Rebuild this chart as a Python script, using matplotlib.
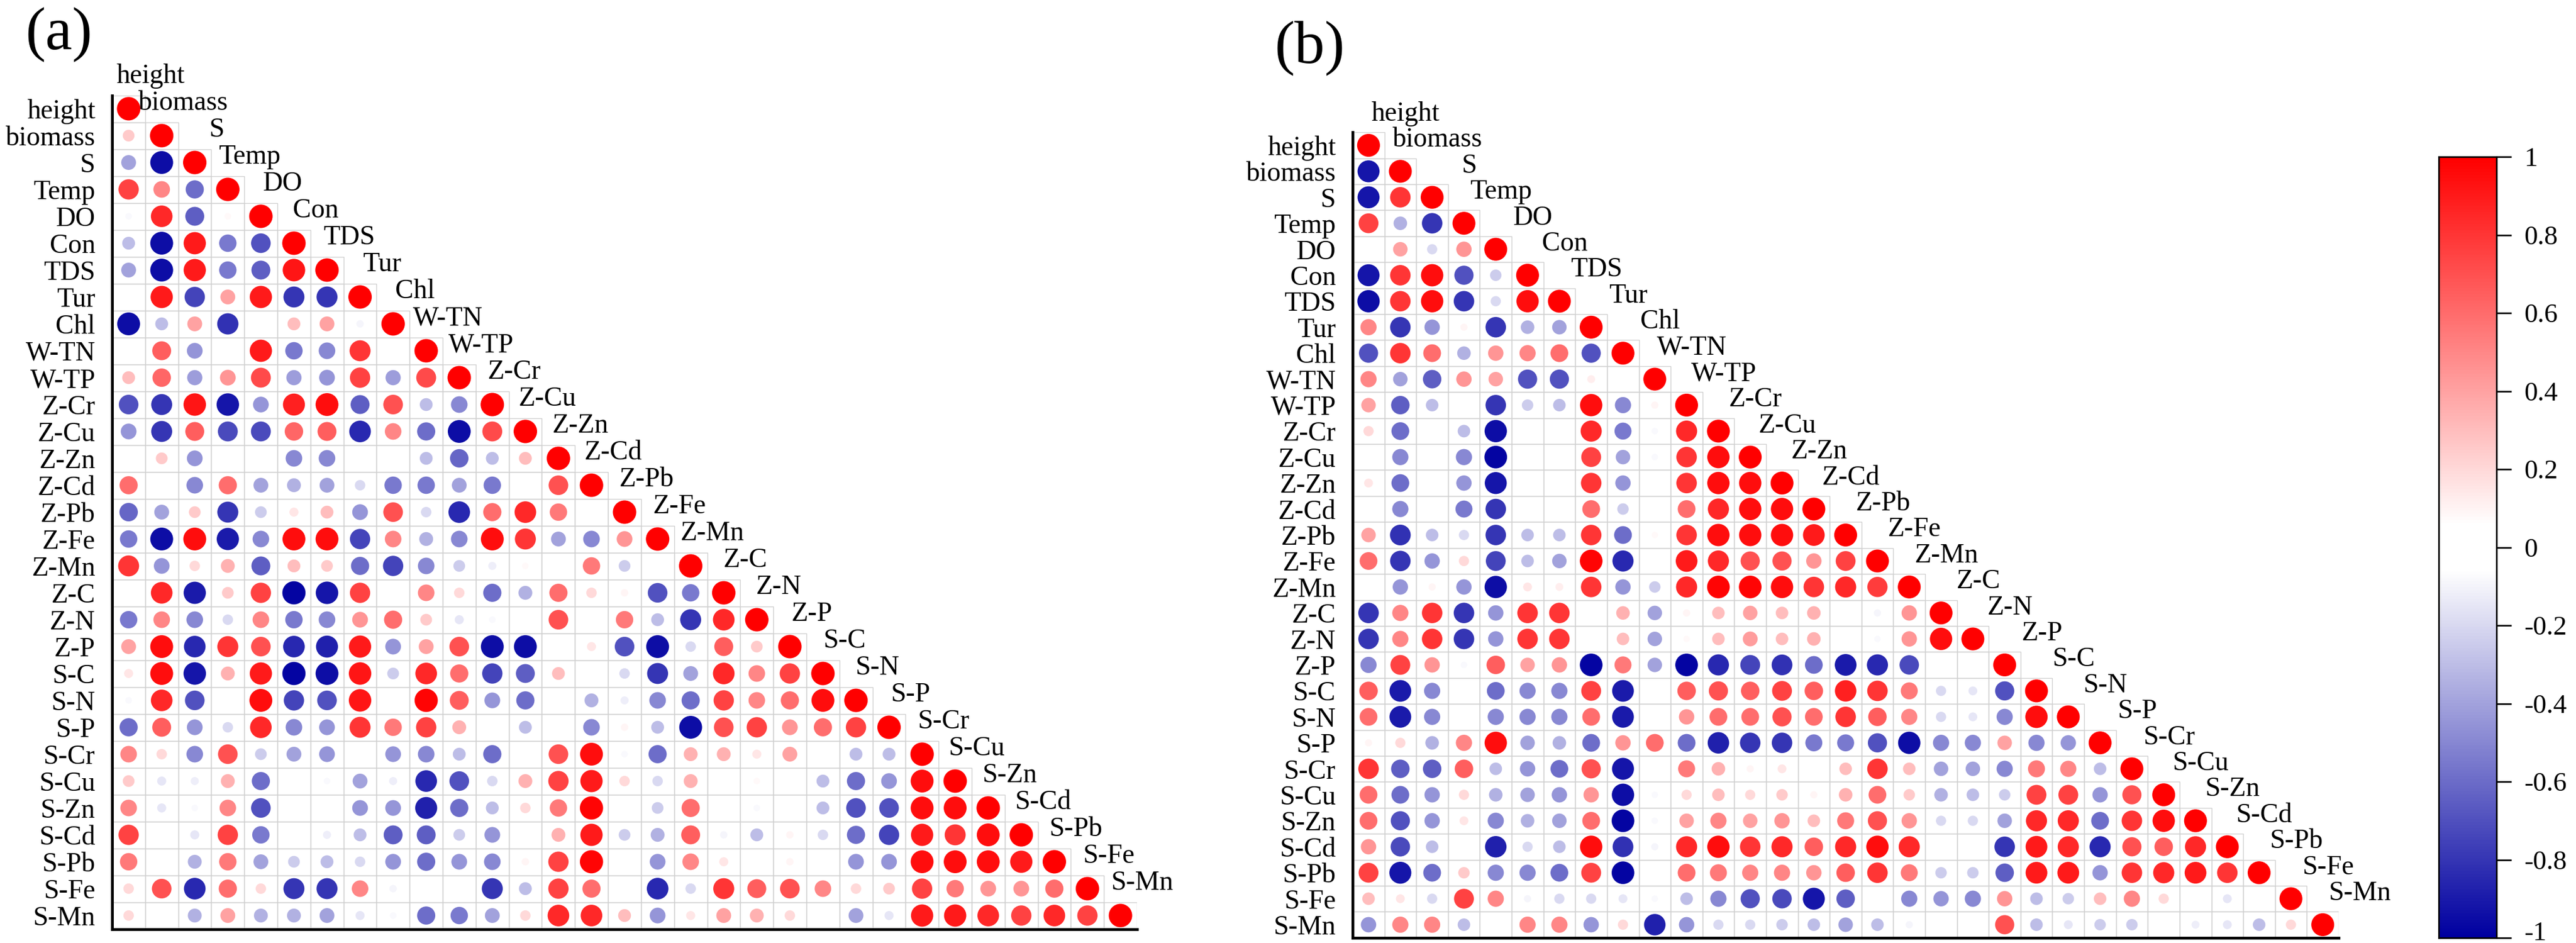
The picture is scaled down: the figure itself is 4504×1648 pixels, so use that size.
import matplotlib
matplotlib.use("Agg")
import matplotlib.pyplot as plt
import matplotlib.transforms as mtransforms
import numpy as np
from matplotlib.colors import LinearSegmentedColormap
from matplotlib.patches import Rectangle
from matplotlib.collections import PatchCollection

plt.rcParams['font.family'] = ['Liberation Serif', 'DejaVu Serif']

variables = ["height", "biomass", "S", "Temp", "DO", "Con", "TDS", "Tur", "Chl",
             "W-TN", "W-TP", "Z-Cr", "Z-Cu", "Z-Zn", "Z-Cd", "Z-Pb", "Z-Fe",
             "Z-Mn", "Z-C", "Z-N", "Z-P", "S-C", "S-N", "S-P", "S-Cr", "S-Cu",
             "S-Zn", "S-Cd", "S-Pb", "S-Fe", "S-Mn"]

# lower triangle (below the diagonal), row i holds columns 0..i-1
corr_a = [
    [],
    [0.25],
    [-0.4, -0.95],
    [0.75, 0.5, -0.6],
    [-0.08, 0.85, -0.65, 0.08],
    [-0.3, -0.95, 0.9, -0.55, -0.7],
    [-0.4, -0.95, 0.9, -0.55, -0.65, 0.92],
    [0.0, 0.9, -0.75, 0.4, 0.9, -0.8, -0.8],
    [-0.95, -0.3, 0.4, -0.82, 0.0, 0.3, 0.4, -0.1],
    [-0.05, 0.65, -0.45, 0.0, 0.9, -0.55, -0.5, 0.8, 0.0],
    [0.3, 0.62, -0.42, 0.45, 0.72, -0.42, -0.45, 0.75, -0.42, 0.72],
    [-0.7, -0.8, 0.92, -0.92, -0.45, 0.88, 0.95, -0.65, 0.7, -0.3, -0.5],
    [-0.45, -0.8, 0.65, -0.72, -0.72, 0.62, 0.65, -0.85, 0.5, -0.6, -0.95, 0.72],
    [0.0, 0.25, -0.45, 0.03, 0.0, -0.5, -0.5, 0.0, 0.05, -0.3, -0.62, -0.3, 0.3],
    [0.6, 0.05, -0.5, 0.6, -0.4, -0.35, -0.4, -0.2, -0.55, -0.55, -0.4, -0.55, 0.03, 0.7],
    [-0.62, -0.4, 0.25, -0.8, -0.25, 0.15, 0.3, -0.45, 0.7, -0.2, -0.85, 0.6, 0.85, 0.55, 0.0],
    [-0.55, -0.95, 0.95, -0.9, -0.5, 0.95, 0.95, -0.75, 0.5, -0.35, -0.5, 0.95, 0.8, -0.4, -0.5, 0.45],
    [0.8, -0.45, 0.2, 0.35, -0.65, 0.3, 0.25, -0.6, -0.75, -0.5, -0.25, -0.12, 0.08, -0.05, 0.55, -0.25, 0.0],
    [-0.03, 0.85, -0.9, 0.25, 0.75, -0.98, -0.92, 0.75, 0.0, 0.5, 0.2, -0.6, -0.35, 0.6, 0.2, 0.1, -0.7, -0.55],
    [-0.55, 0.5, -0.5, -0.2, 0.5, -0.55, -0.5, 0.45, 0.6, 0.25, -0.15, -0.08, 0.05, 0.7, 0.0, 0.55, -0.3, -0.8, 0.85],
    [0.4, 0.95, -0.85, 0.8, 0.7, -0.85, -0.88, 0.9, -0.45, 0.4, 0.7, -0.95, -0.95, 0.05, 0.15, -0.7, -0.95, -0.2, 0.65, 0.25],
    [0.15, 0.95, -0.92, 0.35, 0.9, -0.98, -0.95, 0.92, -0.25, 0.85, 0.6, -0.75, -0.65, 0.3, 0.0, -0.2, -0.8, -0.4, 0.85, 0.5, 0.75],
    [-0.08, 0.85, -0.7, 0.0, 0.95, -0.75, -0.7, 0.92, 0.0, 0.98, 0.65, -0.45, -0.6, 0.0, -0.35, -0.12, -0.5, -0.6, 0.75, 0.5, 0.6, 0.95],
    [-0.6, 0.65, -0.45, -0.2, 0.85, -0.5, -0.45, 0.8, 0.55, 0.75, 0.35, -0.05, -0.3, 0.05, -0.5, 0.1, -0.3, -0.95, 0.7, 0.75, 0.45, 0.6, 0.75],
    [0.5, 0.2, -0.5, 0.7, -0.25, -0.4, -0.45, 0.0, -0.45, -0.5, -0.3, -0.6, 0.0, 0.7, 0.95, -0.08, -0.6, 0.35, 0.35, 0.15, 0.4, 0.0, -0.3, -0.3],
    [0.25, -0.15, -0.12, 0.35, -0.6, 0.0, -0.08, -0.4, -0.12, -0.85, -0.7, -0.2, 0.35, 0.75, 0.9, 0.2, -0.2, 0.35, 0.03, 0.08, 0.0, -0.3, -0.6, -0.45, 0.95],
    [0.5, -0.15, -0.08, 0.5, -0.7, 0.0, 0.03, -0.45, -0.45, -0.88, -0.6, -0.3, 0.2, 0.55, 0.98, 0.0, -0.25, 0.6, 0.03, -0.08, 0.0, -0.3, -0.7, -0.7, 0.95, 0.95],
    [0.75, -0.05, -0.15, 0.75, -0.55, -0.02, -0.12, -0.3, -0.65, -0.65, -0.25, -0.45, 0.0, 0.35, 0.9, -0.25, -0.35, 0.65, -0.1, -0.3, 0.1, -0.2, -0.6, -0.75, 0.9, 0.8, 0.95],
    [0.55, 0.0, -0.35, 0.55, -0.4, -0.25, -0.3, -0.2, -0.45, -0.6, -0.45, -0.5, 0.1, 0.75, 0.98, 0.0, -0.45, 0.5, 0.15, 0.0, 0.1, 0.0, -0.45, -0.45, 0.95, 0.95, 0.95, 0.9],
    [0.2, 0.7, -0.85, 0.6, 0.2, -0.8, -0.8, 0.5, -0.1, 0.0, 0.0, -0.8, -0.3, 0.75, 0.6, -0.02, -0.85, -0.2, 0.8, 0.65, 0.7, 0.5, 0.2, 0.25, 0.75, 0.55, 0.45, 0.45, 0.6],
    [0.2, 0.05, -0.35, 0.4, -0.35, -0.35, -0.4, -0.15, -0.08, -0.6, -0.55, -0.4, 0.2, 0.85, 0.85, 0.3, -0.45, 0.15, 0.4, 0.35, 0.2, 0.0, -0.4, -0.15, 0.9, 0.9, 0.85, 0.75, 0.85, 0.75],
]

corr_b = [
    [],
    [-0.92],
    [-0.92, 0.8],
    [0.75, -0.35, -0.8],
    [0.0, 0.4, -0.2, 0.45],
    [-0.92, 0.8, 0.95, -0.7, -0.25],
    [-0.95, 0.8, 0.95, -0.8, -0.2, 0.95],
    [0.5, -0.8, -0.45, 0.1, -0.8, -0.35, -0.4],
    [-0.7, 0.8, 0.6, -0.35, 0.45, 0.5, 0.6, -0.7],
    [0.5, -0.4, -0.65, 0.45, 0.4, -0.7, -0.7, 0.12, 0.0],
    [0.4, -0.65, -0.3, 0.0, -0.8, -0.25, -0.3, 0.95, -0.5, 0.1],
    [0.2, -0.6, 0.0, -0.3, -0.95, 0.0, 0.0, 0.85, -0.55, -0.08, 0.85],
    [0.0, -0.5, 0.03, -0.5, -0.98, 0.05, 0.05, 0.75, -0.4, -0.08, 0.8, 0.95],
    [0.15, -0.6, 0.0, -0.45, -0.92, 0.0, 0.0, 0.8, -0.45, 0.0, 0.8, 0.95, 0.95],
    [0.0, -0.5, 0.0, -0.55, -0.8, 0.0, 0.0, 0.6, -0.25, 0.0, 0.6, 0.85, 0.95, 0.95],
    [0.4, -0.82, -0.3, -0.2, -0.8, -0.3, -0.3, 0.8, -0.6, 0.08, 0.8, 0.95, 0.95, 0.95, 0.9],
    [0.6, -0.8, -0.45, 0.2, -0.75, -0.3, -0.4, 0.98, -0.85, 0.0, 0.9, 0.85, 0.7, 0.7, 0.45, 0.75],
    [0.0, -0.45, 0.1, -0.45, -0.95, 0.15, 0.12, 0.8, -0.45, -0.25, 0.85, 0.98, 0.98, 0.95, 0.8, 0.85, 0.78],
    [-0.8, 0.5, 0.8, -0.8, -0.45, 0.8, 0.8, 0.0, 0.35, -0.4, 0.1, 0.3, 0.4, 0.3, 0.35, 0.0, -0.1, 0.45],
    [-0.8, 0.5, 0.8, -0.8, -0.45, 0.8, 0.8, 0.0, 0.3, -0.4, 0.08, 0.3, 0.42, 0.3, 0.35, 0.0, -0.08, 0.45, 0.95],
    [-0.5, 0.75, 0.45, -0.08, 0.65, 0.4, 0.45, -0.98, 0.55, -0.4, -0.98, -0.85, -0.75, -0.82, -0.6, -0.9, -0.85, -0.72, 0.0, 0.0],
    [0.65, -0.9, -0.5, 0.0, -0.6, -0.5, -0.5, 0.75, -0.9, 0.03, 0.65, 0.7, 0.65, 0.75, 0.65, 0.88, 0.8, 0.55, -0.2, -0.15, -0.7],
    [0.6, -0.9, -0.5, 0.0, -0.5, -0.5, -0.5, 0.6, -0.9, 0.0, 0.45, 0.6, 0.6, 0.7, 0.6, 0.8, 0.65, 0.5, -0.2, -0.15, -0.5, 0.95],
    [0.1, 0.2, -0.35, 0.5, 0.95, -0.4, -0.35, -0.6, 0.45, 0.6, -0.6, -0.88, -0.8, -0.8, -0.55, -0.55, -0.7, -0.95, -0.5, -0.5, 0.4, -0.5, -0.45],
    [0.8, -0.65, -0.65, 0.65, -0.3, -0.45, -0.6, 0.7, -0.92, 0.0, 0.55, 0.35, 0.1, 0.15, 0.0, 0.3, 0.8, 0.3, -0.4, -0.4, -0.5, 0.55, 0.5, -0.3],
    [0.6, -0.6, -0.45, 0.2, -0.35, -0.4, -0.45, 0.45, -0.95, -0.08, 0.2, 0.3, 0.2, 0.25, 0.1, 0.35, 0.6, 0.25, -0.35, -0.3, -0.25, 0.75, 0.75, -0.45, 0.7],
    [0.6, -0.7, -0.45, 0.15, -0.5, -0.35, -0.4, 0.6, -0.98, -0.08, 0.4, 0.5, 0.4, 0.45, 0.3, 0.55, 0.7, 0.45, -0.2, -0.2, -0.4, 0.85, 0.85, -0.6, 0.8, 0.95],
    [0.45, -0.72, -0.3, 0.0, -0.88, -0.2, -0.3, 0.95, -0.82, -0.1, 0.85, 0.95, 0.8, 0.85, 0.65, 0.85, 0.95, 0.85, 0.0, 0.0, -0.8, 0.9, 0.85, -0.85, 0.7, 0.65, 0.85],
    [0.75, -0.92, -0.6, 0.25, -0.5, -0.5, -0.6, 0.75, -0.98, 0.02, 0.6, 0.55, 0.5, 0.5, 0.45, 0.65, 0.8, 0.55, -0.25, -0.25, -0.65, 0.9, 0.9, -0.45, 0.8, 0.85, 0.9, 0.8],
    [0.3, 0.15, -0.2, 0.75, 0.5, -0.1, -0.2, -0.2, -0.15, -0.08, -0.3, -0.5, -0.7, -0.72, -0.92, -0.65, 0.0, -0.5, -0.45, -0.5, 0.45, -0.3, -0.25, 0.3, 0.5, 0.2, 0.05, -0.15, 0.0],
    [-0.45, 0.5, 0.5, -0.3, 0.0, 0.5, 0.5, -0.45, 0.2, -0.88, -0.45, -0.2, -0.2, -0.25, -0.3, -0.4, -0.3, -0.1, 0.05, 0.03, 0.7, -0.3, -0.15, -0.25, -0.25, 0.0, -0.12, -0.15, -0.3, 0.2],
]

cbar_ticks = [1, 0.8, 0.6, 0.4, 0.2, 0, -0.2, -0.4, -0.6, -0.8, -1]
cbar_labels = ["1", "0.8", "0.6", "0.4", "0.2", "0", "-0.2", "-0.4", "-0.6", "-0.8", "-1"]

cmap = LinearSegmentedColormap.from_list(
    "corr", [(0.0, (0.0, 0.0, 0.63)), (0.47, (1, 1, 1)), (0.53, (1, 1, 1)), (1.0, (1.0, 0.0, 0.0))])

W, H = 4504, 1648
LABEL_FS = 34.5
fig = plt.figure(figsize=(W / 100, H / 100), dpi=100)


def draw_panel(rect, corr, smax, lab_dx, letter, letter_xy):
    ax = fig.add_axes(rect)
    n = len(variables)
    # full matrix entries: lower triangle + diagonal of ones
    xs, ys, vs = [], [], []
    for i, row in enumerate(corr):
        for j, v in enumerate(list(row) + [1.0]):
            xs.append(j)
            ys.append(i)
            vs.append(v)
    vs = np.array(vs)

    cells = [Rectangle((x - 0.5, y - 0.5), 1, 1) for x, y in zip(xs, ys)]
    ax.add_collection(PatchCollection(cells, facecolor='none', edgecolor='#cfcfcf',
                                      linewidth=1.0, zorder=1))
    ax.scatter(xs, ys, s=smax * np.abs(vs), c=vs, cmap=cmap, vmin=-1, vmax=1,
               edgecolors='none', zorder=2)

    ax.set_xlim(-0.5, n - 0.5)
    ax.set_ylim(n - 0.5, -0.5)
    ax.set_xticks([])
    ax.set_yticks(range(n))
    ax.set_yticklabels(variables, fontsize=LABEL_FS)
    ax.tick_params(axis='y', length=0, pad=21)
    for s in ['top', 'right']:
        ax.spines[s].set_visible(False)
    for s in ['left', 'bottom']:
        ax.spines[s].set_linewidth(3.5)

    # column names run down the diagonal
    for j, name in enumerate(variables):
        ax.text(j + lab_dx, j - 1 - 0.21, name, ha='center', va='center',
                fontsize=LABEL_FS, clip_on=False)

    fig.text(letter_xy[0] / W, 1 - letter_xy[1] / H, letter, ha='center', va='center',
             fontsize=76)
    return ax


draw_panel([196 / W, 1 - 1623.5 / H, (1988 - 196) / W, (1623.5 - 166.5) / H],
           corr_a, 870, 0.66, "(a)", (103, 61))
draw_panel([2365 / W, 1 - 1638.7 / H, (4089 - 2365) / W, (1638.7 - 231.3) / H],
           corr_b, 830, 1.17, "(b)", (2290, 85))

# colour bar
cax = fig.add_axes([4264 / W, 1 - 1639 / H, 101 / W, (1639 - 274) / H])
grad = np.linspace(-1, 1, 512).reshape(-1, 1)
cax.imshow(grad, aspect='auto', cmap=cmap, origin='lower', extent=[0, 1, -1, 1])
cax.set_xticks([])
cax.yaxis.tick_right()
cax.set_yticks(cbar_ticks)
cax.set_yticklabels(cbar_labels, fontsize=34)
cax.tick_params(axis='y', length=19, width=2, pad=16)
for s in cax.spines.values():
    s.set_linewidth(2)
# nudge the bottom label up so it stays inside the image
bottom_lab = cax.get_yticklabels()[-1]
bottom_lab.set_transform(bottom_lab.get_transform() +
                         mtransforms.ScaledTranslation(0, 12 / 100, fig.dpi_scale_trans))

fig.savefig("out.png", dpi=100)
